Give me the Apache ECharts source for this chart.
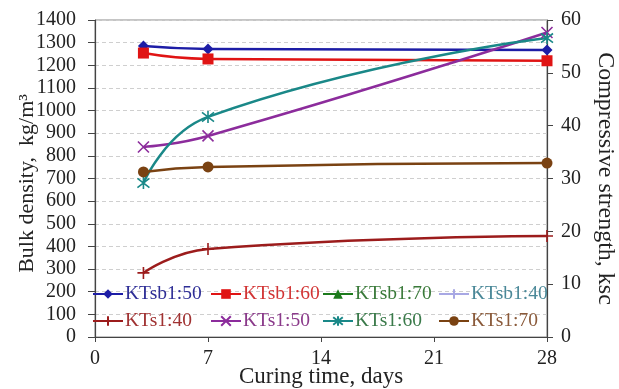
<!DOCTYPE html>
<html>
<head>
<meta charset="utf-8">
<script src="https://cdn.jsdelivr.net/npm/echarts@6/dist/echarts.min.js"></script>
<style>
  html, body { margin: 0; padding: 0; background: #fff; }
  #chart { width: 619px; height: 389px; }
</style>
</head>
<body>
<div id="chart"></div>
<script>
// Curing ages (days) at which samples were tested
const days = [3, 7, 28];

// Bulk density, kg/m3
const ktsb150 = [1285, 1272, 1267];
const ktsb160 = [1254, 1228, 1220];
const ktsb170 = [];
const ktsb140 = [];
const kts140 = [283, 389, 446];
const kts150 = [839, 888, 1345];
const kts160 = [680, 972, 1320];
const kts170 = [729, 751, 768];

const seriesNames = ['KTsb1:50', 'KTsb1:60', 'KTsb1:70', 'KTsb1:40',
                     'KTs1:40', 'KTs1:50', 'KTs1:60', 'KTs1:70'];

const FONT = '"Liberation Serif", "Times New Roman", serif';

const plusPath = 'path://M0,-1L0,1M-1,0L1,0';
const crossPath = 'path://M-1,-1L1,1M-1,1L1,-1';
const starPath = 'path://M-1,-1L1,1M-1,1L1,-1M0,-1.3L0,1.3';

function pts(vals) {
  return vals.map((v, i) => [days[i], v]);
}

function lineSeries(name, vals, color, symbol, size, stroked) {
  return {
    name: name,
    type: 'line',
    yAxisIndex: 0,
    data: pts(vals),
    smooth: 0.5,
    symbol: symbol,
    symbolSize: size,
    showAllSymbol: true,
    lineStyle: { color: color, width: 2.5 },
    itemStyle: stroked
      ? { color: 'rgba(0,0,0,0)', borderColor: color, borderWidth: 1.6 }
      : { color: color, borderColor: color, borderWidth: 0 },
    color: color,
    emphasis: { disabled: true },
    z: 3
  };
}

const series = [
  lineSeries('KTsb1:50', ktsb150, '#1d1da6', 'diamond', 11, false),
  lineSeries('KTsb1:60', ktsb160, '#e01414', 'rect', 11, false),
  lineSeries('KTsb1:70', ktsb170, '#1c7a1c', 'triangle', 10, false),
  lineSeries('KTsb1:40', ktsb140, '#a8a8e4', plusPath, 10, true),
  lineSeries('KTs1:40', kts140, '#9c1c1c', plusPath, 12, true),
  lineSeries('KTs1:50', kts150, '#8c2c9c', crossPath, 11, true),
  lineSeries('KTs1:60', kts160, '#1a8888', starPath, 12, true),
  lineSeries('KTs1:70', kts170, '#7a4212', 'circle', 11, false)
];

// legend text colours
const legendText = {
  'KTsb1:50': '#2e2e96',
  'KTsb1:60': '#d23434',
  'KTsb1:70': '#3a7a3a',
  'KTsb1:40': '#4a8898',
  'KTs1:40': '#a03232',
  'KTs1:50': '#8a3a8a',
  'KTs1:60': '#3a7a4a',
  'KTs1:70': '#8a5a3a'
};

const legendCols = [92, 210, 322, 438];
const legends = legendCols.map((x, c) => ({
  orient: 'vertical',
  left: x,
  top: 284,
  padding: 0,
  itemGap: 7,
  itemWidth: 30,
  itemHeight: 12,
  selectedMode: false,
  textStyle: { fontFamily: FONT, fontSize: 19.5, padding: [0, 0, 0, -3] },
  data: [seriesNames[c], seriesNames[c + 4]].map(n => ({
    name: n,
    textStyle: { color: legendText[n] }
  }))
}));

const plain = v => String(v);

const chart = echarts.init(document.getElementById('chart'), null, { renderer: 'canvas' });

chart.setOption({
  backgroundColor: '#ffffff',
  animation: false,
  grid: {
    left: 95, right: 72, top: 20, bottom: 52,
    outerBoundsMode: 'none',
    containLabel: false,
    show: true, borderColor: '#8a8a8a', borderWidth: 1, backgroundColor: 'transparent'
  },
  legend: legends,
  xAxis: {
    type: 'value',
    min: 0, max: 28, interval: 7,
    name: 'Curing time, days',
    nameLocation: 'middle',
    nameMoveOverlap: false,
    nameGap: 28,
    nameTextStyle: { fontFamily: FONT, fontSize: 23, color: '#222' },
    axisLine: { show: true, lineStyle: { color: '#444', width: 1.2 } },
    axisTick: { show: true, length: 5, lineStyle: { color: '#444' } },
    axisLabel: { fontFamily: FONT, fontSize: 20, color: '#222', margin: 12, formatter: plain },
    splitLine: { show: false }
  },
  yAxis: [
    {
      type: 'value',
      position: 'left',
      min: 0, max: 1400, interval: 100,
      name: 'Bulk density,  kg/m³',
      nameLocation: 'middle',
      nameMoveOverlap: false,
      nameGap: 57,
      nameTextStyle: { fontFamily: FONT, fontSize: 22, color: '#222', padding: [0, 10, 0, 0] },
      axisLine: { show: true, lineStyle: { color: '#444', width: 1.2 } },
      axisTick: { show: true, length: 7, lineStyle: { color: '#444' } },
      axisLabel: { fontFamily: FONT, fontSize: 20, color: '#222', margin: 19, formatter: plain },
      splitLine: { show: true, lineStyle: { color: '#cfcfcf', type: [4, 3], width: 1 } }
    },
    {
      type: 'value',
      position: 'right',
      min: 0, max: 60, interval: 10,
      name: 'Compressive strength, ksc',
      nameLocation: 'middle',
      nameMoveOverlap: false,
      nameRotate: -90,
      nameGap: 46,
      nameTextStyle: { fontFamily: FONT, fontSize: 24, color: '#222' },
      axisLine: { show: true, lineStyle: { color: '#444', width: 1.2 } },
      axisTick: { show: true, length: 6, lineStyle: { color: '#444' } },
      axisLabel: { fontFamily: FONT, fontSize: 20, color: '#222', margin: 14, formatter: plain },
      splitLine: { show: false }
    }
  ],
  series: series
});
</script>
</body>
</html>
